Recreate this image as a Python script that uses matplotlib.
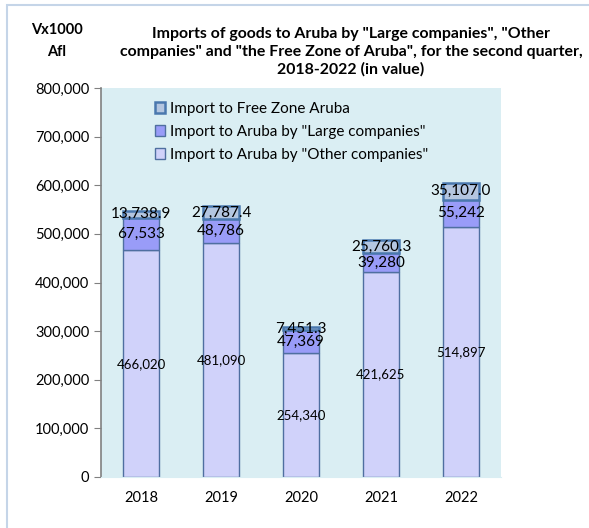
import matplotlib
matplotlib.use("Agg")
import matplotlib.pyplot as plt
from matplotlib.patches import Rectangle

years = ["2018", "2019", "2020", "2021", "2022"]
other = [466020, 481090, 254340, 421625, 514897]
large = [67533, 48786, 47369, 39280, 55242]
freezone = [13738.9, 27787.4, 7451.3, 25760.3, 35107.0]

plt.rcParams['font.family'] = ['Lato', 'DejaVu Sans']

fig = plt.figure(figsize=(5.89, 5.28), dpi=100)
fig.patches.append(Rectangle((7/589, -0.1), 1.2, 1 - 5/528 + 0.1, transform=fig.transFigure,
                             fill=False, edgecolor='#C5D5E8', linewidth=1.5))
ax = fig.add_axes([101/589, 1 - 477/528, 400/589, 389/528])
ax.set_facecolor('#DAEEF3')

x = list(range(len(years)))
w = 0.45
edge = '#4F6FA0'
b1 = ax.bar(x, other, w, color='#D0D2FA', edgecolor=edge, linewidth=1.0,
            label='Import to Aruba by "Other companies"')
b2 = ax.bar(x, large, w, bottom=other, color='#999CF8', edgecolor=edge, linewidth=1.0,
            label='Import to Aruba by "Large companies"')
bot3 = [o + l for o, l in zip(other, large)]
b3 = ax.bar(x, freezone, w, bottom=bot3, color='#B4C6E0', edgecolor='#4A78AE', linewidth=1.8,
            label='Import to Free Zone Aruba')

for i in x:
    ax.text(i, other[i] / 2, f"{other[i]:,}", ha='center', va='center', fontsize=9.5)
    ax.text(i, other[i] + large[i] / 2, f"{large[i]:,}", ha='center', va='center', fontsize=11)
    ax.text(i, bot3[i] + freezone[i] / 2, f"{freezone[i]:,.1f}", ha='center', va='center', fontsize=11)

ax.set_xlim(-0.5, 4.5)
ax.set_ylim(0, 800000)
ax.set_yticks(range(0, 800001, 100000))
ax.set_yticklabels([f"{v:,}" for v in range(0, 800001, 100000)], fontsize=10.5)
ax.set_xticks(x)
ax.set_xticklabels(years, fontsize=10.5)
ax.tick_params(axis='x', length=0, pad=10)
ax.tick_params(axis='y', length=5, color='#808080', direction='out')
for s in ['top', 'right']:
    ax.spines[s].set_visible(False)
ax.spines['left'].set_color('#808080')
ax.spines['left'].set_linewidth(1.2)
ax.spines['bottom'].set_color('#DAEEF3')

handles = [b3, b2, b1]
leg = ax.legend(handles, [h.get_label() for h in handles], loc='upper left',
                bbox_to_anchor=(0.1, 1.0), frameon=False, fontsize=11,
                handlelength=0.7, handleheight=0.7, handletextpad=0.3, labelspacing=0.6)

fig.text(57/589, 1 - 41/528, "Vx1000\nAfl", ha='center', va='center', fontsize=10.5,
         fontweight='bold', linespacing=1.75)
fig.text(351/589, 1 - 52/528,
         'Imports of goods to Aruba by "Large companies", "Other\n'
         'companies" and "the Free Zone of Aruba", for the second quarter,\n'
         '2018-2022 (in value)', ha='center', va='center', fontsize=11.4,
         fontweight='bold', linespacing=1.3)

fig.savefig("out.png", dpi=100)
